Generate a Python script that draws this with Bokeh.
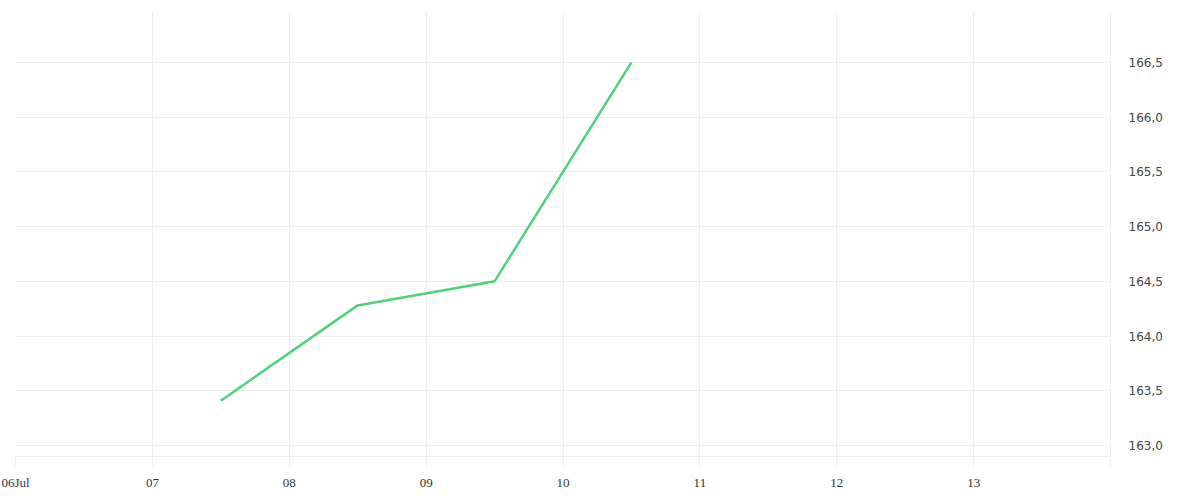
from datetime import datetime
from bokeh.plotting import figure
from bokeh.models import FixedTicker, Range1d
from bokeh.embed import file_html
from bokeh.resources import INLINE

# data
dates = [datetime(2023, 7, 7, 12), datetime(2023, 7, 8, 12), datetime(2023, 7, 9, 12), datetime(2023, 7, 10, 12)]
values = [163.41, 164.28, 164.5, 166.5]

x_tick_dates = [datetime(2023, 7, d) for d in range(6, 15)]
x_tick_labels = ["06Jul", "07", "08", "09", "10", "11", "12", "13", ""]
y_ticks = [163.0, 163.5, 164.0, 164.5, 165.0, 165.5, 166.0, 166.5]
y_tick_labels = ["163,0", "163,5", "164,0", "164,5", "165,0", "165,5", "166,0", "166,5"]

def ms(d):
    return (d - datetime(1970, 1, 1)).total_seconds() * 1000.0

p = figure(width=1184, height=492, x_axis_type="datetime", y_axis_location="right",
           output_backend="svg", toolbar_location=None,
           min_border_left=15, min_border_right=74, min_border_top=12, min_border_bottom=34)
p.x_range = Range1d(ms(datetime(2023, 7, 6)), ms(datetime(2023, 7, 14)))
p.y_range = Range1d(162.9, 166.955)
p.outline_line_color = None
p.background_fill_color = "white"

p.line([ms(d) for d in dates], values, line_color="#4fd17a", line_width=2.5)

xt = [ms(d) for d in x_tick_dates]
p.xaxis.ticker = FixedTicker(ticks=xt)
p.xaxis.major_label_overrides = {t: l for t, l in zip(xt, x_tick_labels)}
p.xaxis.axis_line_color = "#eeeeee"
p.xaxis.major_tick_line_color = "#eeeeee"
p.xaxis.major_tick_out = 10
p.xaxis.major_tick_in = 0
p.xaxis.minor_tick_line_color = None
p.xaxis.major_label_text_font = "Liberation Serif"
p.xaxis.major_label_text_font_size = "13px"
p.xaxis.major_label_text_color = "#333333"
p.xaxis.major_label_standoff = 8

p.yaxis.ticker = FixedTicker(ticks=y_ticks)
p.yaxis.major_label_overrides = {t: l for t, l in zip(y_ticks, y_tick_labels)}
p.yaxis.axis_line_color = "#eeeeee"
p.yaxis.major_tick_line_color = None
p.yaxis.minor_tick_line_color = None
p.yaxis.major_label_text_font = "DejaVu Sans"
p.yaxis.major_label_text_font_size = "12px"
p.yaxis.major_label_text_color = "#444444"
p.yaxis.major_label_standoff = 12

p.xgrid.grid_line_color = "#eeeeee"
p.ygrid.grid_line_color = "#eeeeee"
p.xgrid.ticker = FixedTicker(ticks=xt)
p.ygrid.ticker = FixedTicker(ticks=y_ticks)

open("out.html", "w").write(file_html(p, INLINE))
